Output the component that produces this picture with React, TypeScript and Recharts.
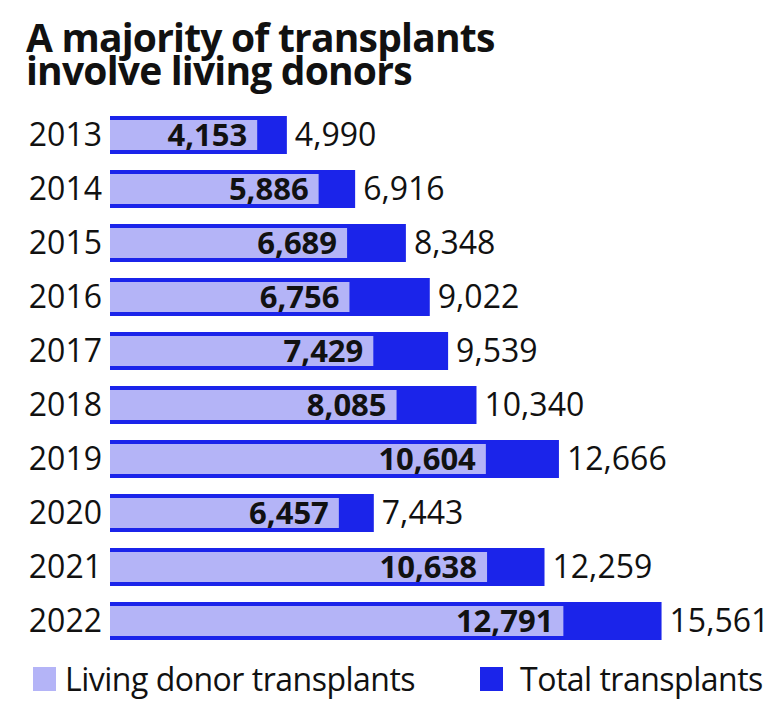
import React from 'react';
import { BarChart, Bar, XAxis, YAxis, LabelList } from 'recharts';

const years = ['2013', '2014', '2015', '2016', '2017', '2018', '2019', '2020', '2021', '2022'];
const livingDonor = [4153, 5886, 6689, 6756, 7429, 8085, 10604, 6457, 10638, 12791];
const totalTransplants = [4990, 6916, 8348, 9022, 9539, 10340, 12666, 7443, 12259, 15561];

const data = years.map((year, i) => ({
  year,
  living: livingDonor[i],
  total: totalTransplants[i],
}));

const DARK = '#1b24ea';
const LIGHT = '#b4b4f7';
const FONT = '"Open Sans", sans-serif';

const fmt = (v: any) => Number(v).toLocaleString('en-US');

export default function App() {
  return (
    <div
      style={{
        position: 'absolute',
        left: 0,
        top: 0,
        width: 778,
        height: 722,
        background: '#fff',
        fontFamily: FONT,
        color: '#111',
      }}
    >
      <div
        style={{
          position: 'absolute',
          left: 26,
          top: 20,
          fontSize: 39,
          lineHeight: '33px',
          fontWeight: 700,
          letterSpacing: -0.8,
          whiteSpace: 'nowrap',
        }}
      >
        A majority of transplants
        <br />
        involve living donors
      </div>

      <div style={{ position: 'absolute', left: 0, top: 0 }}>
        <BarChart
          width={778}
          height={722}
          data={data}
          layout="vertical"
          margin={{ top: 108, right: 30, bottom: 74, left: 0 }}
        >
          <XAxis type="number" domain={[0, 18000]} hide />
          <YAxis
            yAxisId="a"
            type="category"
            dataKey="year"
            width={110}
            axisLine={false}
            tickLine={false}
            tick={{ fontSize: 32, fill: '#111', fontFamily: FONT }}
          />
          <YAxis yAxisId="b" type="category" dataKey="year" hide />
          <Bar dataKey="total" yAxisId="a" fill={DARK} barSize={38} isAnimationActive={false}>
            <LabelList
              dataKey="total"
              position="right"
              offset={8}
              formatter={fmt}
              style={{ fontSize: 32, fill: '#111', fontFamily: FONT }}
            />
          </Bar>
          <Bar dataKey="living" yAxisId="b" fill={LIGHT} barSize={30} isAnimationActive={false}>
            <LabelList
              dataKey="living"
              position="insideRight"
              offset={10}
              formatter={fmt}
              style={{ fontSize: 31, fontWeight: 700, fill: '#111', fontFamily: FONT }}
            />
          </Bar>
        </BarChart>
      </div>

      <div
        style={{
          position: 'absolute',
          left: 33,
          top: 659,
          height: 40,
          display: 'flex',
          alignItems: 'center',
          fontSize: 32,
          letterSpacing: -0.5,
          lineHeight: '40px',
        }}
      >
        <span style={{ width: 23, height: 24, background: LIGHT, display: 'inline-block', marginRight: 9 }} />
        <span>Living donor transplants</span>
      </div>
      <div
        style={{
          position: 'absolute',
          left: 480,
          top: 659,
          height: 40,
          display: 'flex',
          alignItems: 'center',
          fontSize: 32,
          letterSpacing: -0.5,
          lineHeight: '40px',
        }}
      >
        <span style={{ width: 23, height: 24, background: DARK, display: 'inline-block', marginRight: 17 }} />
        <span>Total transplants</span>
      </div>
    </div>
  );
}
